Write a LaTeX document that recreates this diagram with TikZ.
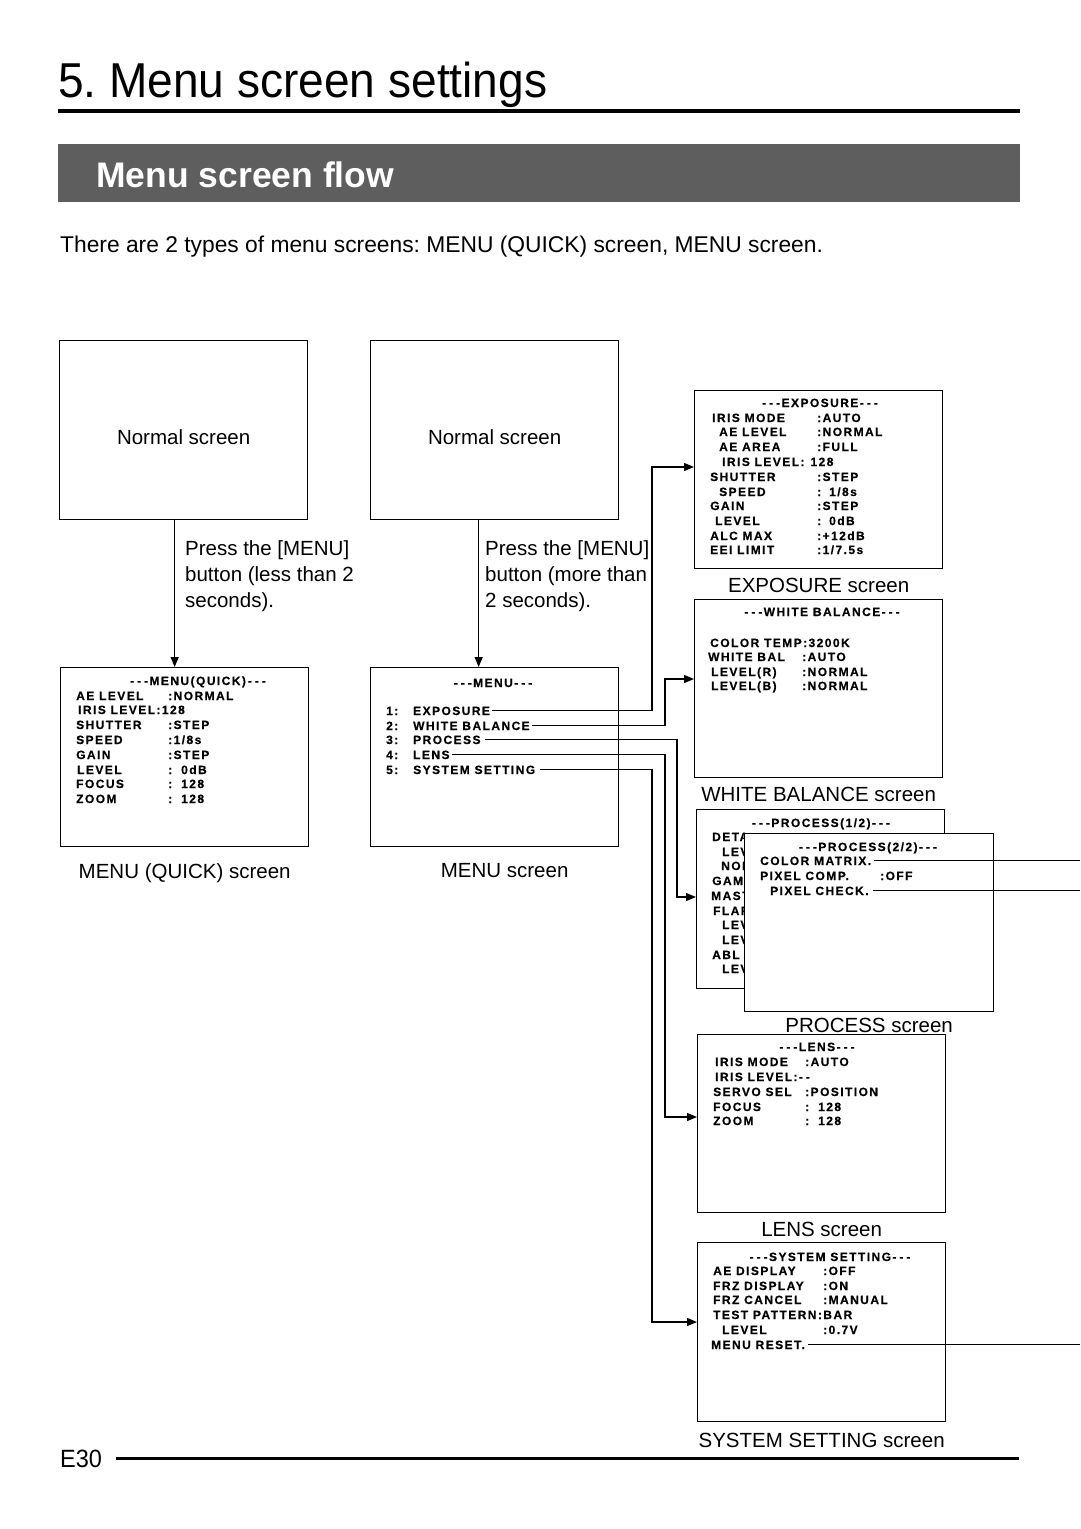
\documentclass[tikz,border=0pt]{standalone}
\usepackage{fontspec}
\setmainfont{Liberation Sans}
\newfontfamily\headfont[FakeStretch=0.94]{Liberation Sans}
\newfontfamily\osdfont[LetterSpace=12,FakeBold=0.4]{Liberation Sans}
\usetikzlibrary{arrows.meta,positioning}
\definecolor{bannergray}{RGB}{94,94,94}
\newcommand{\osddash}{-\kern3pt-\kern3pt-}
\frenchspacing

\tikzset{
  screen/.style={draw, line width=1.3pt, minimum width=248pt, minimum height=179pt, inner sep=0pt, anchor=north west},
  osd/.style={font=\osdfont\bfseries\fontsize{12}{12}\selectfont, anchor=base west, inner sep=0pt},
  osdtitle/.style={font=\osdfont\bfseries\fontsize{12}{12}\selectfont, anchor=base, inner sep=0pt},
  caption/.style={font=\fontsize{20.5}{26}\selectfont, inner sep=0pt},
  link/.style={line width=1.2pt},
  menuarrow/.style={-{Triangle[length=10pt,width=8pt]}}
}

\begin{document}
\begin{tikzpicture}[x=1pt,y=-1pt]
\useasboundingbox (0,0) rectangle (1080,1529);
\fill[white] (0,0) rectangle (1080,1529);

% heading
\node[anchor=base west, inner sep=0pt, font=\headfont\fontsize{49}{49}\selectfont] (title) at (58,97) {5. Menu screen settings};
\draw[line width=4.5pt] (58,111) -- (1020,111);
\fill[bannergray] (58,144) rectangle (1020,202);
\node[anchor=base west, inner sep=0pt, text=white, font=\bfseries\fontsize{35.5}{35.5}\selectfont] (flow) at (96,187) {Menu screen flow};
\node[anchor=base west, inner sep=0pt, font=\fontsize{22.8}{26}\selectfont] (intro) at (60,252) {There are 2 types of menu screens: MENU (QUICK) screen, MENU screen.};

% screens
\node[screen] (normA) at (59,340) {};
\node[screen] (normB) at (370,340) {};
\node[screen] (quick) at (60,667) {};
\node[screen] (menu) at (370,667) {};
\node[screen, minimum height=178pt] (expo) at (694,390) {};
\node[screen, minimum height=178pt] (wb) at (694,599) {};
\node[screen] (procA) at (696,809) {};
\node[screen, minimum height=178pt] (lens) at (697,1034) {};
\node[screen] (sys) at (697,1242) {};

\node[caption] (normAtxt) at ([yshift=-7pt]normA.center) {Normal screen};
\node[caption] (normBtxt) at ([yshift=-7pt]normB.center) {Normal screen};

% press the menu button
\draw[link,menuarrow] ([xshift=-9pt]normA.south) -- ([xshift=-9pt]normA.south |- quick.north);
\draw[link,menuarrow] ([xshift=-16pt]normB.south) -- ([xshift=-16pt]normB.south |- menu.north);
\node[caption, anchor=north west, align=left] (pressA) at (185,540) {Press the [MENU]\\button (less than 2\\seconds).};
\node[caption, anchor=north west, align=left] (pressB) at (485,540) {Press the [MENU]\\button (more than\\2 seconds).};

% MENU (QUICK)
\node[osdtitle] (qt) at (198,685) {\osddash MENU(QUICK)\,\osddash};
\node[osd] (q1) at (76,700) {\makebox[92pt][l]{AE LEVEL}:NORMAL};
\node[osd] (q2) at (78,714) {IRIS LEVEL:128};
\node[osd] (q3) at (76,729) {\makebox[92pt][l]{SHUTTER}:STEP};
\node[osd] (q4) at (76,744) {\makebox[92pt][l]{SPEED}:1/8s};
\node[osd] (q5) at (76,759) {\makebox[92pt][l]{GAIN}:STEP};
\node[osd] (q6) at (77,774) {\makebox[91pt][l]{LEVEL}:\hspace{9pt}0dB};
\node[osd] (q7) at (76,788) {\makebox[92pt][l]{FOCUS}:\hspace{9pt}128};
\node[osd] (q8) at (76,803) {\makebox[92pt][l]{ZOOM}:\hspace{9pt}128};

% MENU
\node[osdtitle] (mt) at (493,687) {\osddash MENU\osddash};
\node[osd] (m1) at (386,715) {\makebox[27pt][l]{1:}EXPOSURE};
\node[osd] (m2) at (386,730) {\makebox[27pt][l]{2:}WHITE BALANCE};
\node[osd] (m3) at (386,744) {\makebox[27pt][l]{3:}PROCESS};
\node[osd] (m4) at (386,759) {\makebox[27pt][l]{4:}LENS};
\node[osd] (m5) at (386,774) {\makebox[27pt][l]{5:}SYSTEM SETTING};

% EXPOSURE
\node[osdtitle] (et) at (820,407) {\osddash EXPOSURE\osddash};
\node[osd] (e1) at (712,422) {\makebox[105pt][l]{IRIS MODE}:AUTO};
\node[osd] (e2) at (719,436) {\makebox[98pt][l]{AE LEVEL}:NORMAL};
\node[osd] (e3) at (719,451) {\makebox[98pt][l]{AE AREA}:FULL};
\node[osd] (e4) at (722,466) {IRIS LEVEL:\hspace{6pt}128};
\node[osd] (e5) at (710,481) {\makebox[107pt][l]{SHUTTER}:STEP};
\node[osd] (e6) at (719,496) {\makebox[98pt][l]{SPEED}:\hspace{8pt}1/8s};
\node[osd] (e7) at (710,510) {\makebox[107pt][l]{GAIN}:STEP};
\node[osd] (e8) at (715,525) {\makebox[102pt][l]{LEVEL}:\hspace{8pt}0dB};
\node[osd] (e9) at (710,540) {\makebox[107pt][l]{ALC MAX}:+12dB};
\node[osd] (e10) at (710,554) {\makebox[107pt][l]{EEI LIMIT}:1/7.5s};

% WHITE BALANCE
\node[osdtitle] (wt) at (822,616) {\osddash WHITE BALANCE\osddash};
\node[osd] (w1) at (710,647) {COLOR TEMP:3200K};
\node[osd] (w2) at (708,661) {\makebox[94pt][l]{WHITE BAL}:AUTO};
\node[osd] (w3) at (711,676) {\makebox[91pt][l]{LEVEL(R)}:NORMAL};
\node[osd] (w4) at (711,690) {\makebox[91pt][l]{LEVEL(B)}:NORMAL};

% PROCESS (1/2), mostly hidden
\node[osdtitle] (pa) at (821,827) {\osddash PROCESS(1/2)\osddash};
\node[osd] (p1) at (712,841) {DETA};
\node[osd] (p2) at (722,856) {LEV};
\node[osd] (p3) at (721,870) {NOI};
\node[osd] (p4) at (712,885) {GAMM};
\node[osd] (p5) at (711,900) {MAST};
\node[osd] (p6) at (713,915) {FLAR};
\node[osd] (p7) at (722,929) {LEV};
\node[osd] (p8) at (722,944) {LEV};
\node[osd] (p9) at (712,959) {ABL};
\node[osd] (p10) at (722,973) {LEV};

% PROCESS (2/2)
\node[screen, fill=white, minimum width=249pt, minimum height=178pt] (procB) at (744,833) {};
\node[osdtitle] (pb) at (868,851) {\osddash PROCESS(2/2)\osddash};
\node[osd] (pc1) at (760,865) {COLOR MATRIX.};
\node[osd] (pc2) at (760,880) {\makebox[120pt][l]{PIXEL COMP.}:OFF};
\node[osd] (pc3) at (770,895) {PIXEL CHECK.};

% LENS
\node[osdtitle] (lt) at (817,1051) {\osddash LENS\osddash};
\node[osd] (l1) at (715,1066) {\makebox[90pt][l]{IRIS MODE}:AUTO};
\node[osd] (l2) at (715,1081) {IRIS LEVEL:-\kern3pt-};
\node[osd] (l3) at (713,1096) {\makebox[92pt][l]{SERVO SEL}:POSITION};
\node[osd] (l4) at (713,1111) {\makebox[92pt][l]{FOCUS}:\hspace{9pt}128};
\node[osd] (l5) at (713,1125) {\makebox[92pt][l]{ZOOM}:\hspace{9pt}128};

% SYSTEM SETTING
\node[osdtitle] (st) at (830,1261) {\osddash SYSTEM SETTING\osddash};
\node[osd] (s1) at (713,1275) {\makebox[110pt][l]{AE DISPLAY}:OFF};
\node[osd] (s2) at (713,1290) {\makebox[110pt][l]{FRZ DISPLAY}:ON};
\node[osd] (s3) at (713,1304) {\makebox[110pt][l]{FRZ CANCEL}:MANUAL};
\node[osd] (s4) at (713,1319) {TEST PATTERN:BAR};
\node[osd] (s5) at (722,1334) {\makebox[101pt][l]{LEVEL}:0.7V};
\node[osd] (s6) at (711,1349) {MENU RESET.};

% captions
\node[caption, below=16pt of quick] (quickcap) {MENU (QUICK) screen};
\node[caption, below=16pt of menu, xshift=10pt] (menucap) {MENU screen};
\node[caption, below=9pt of expo] (expocap) {EXPOSURE screen};
\node[caption, below=9pt of wb] (wbcap) {WHITE BALANCE screen};
\node[caption, below=6pt of procB] (proccap) {PROCESS screen};
\node[caption, below=9pt of lens] (lenscap) {LENS screen};
\node[caption, below=11pt of sys] (syscap) {SYSTEM SETTING screen};

% menu items to their screens
\coordinate (bendE) at (652,467);
\coordinate (bendW) at (665,679);
\coordinate (bendP) at (677,897);
\coordinate (bendL) at (665,1117);
\coordinate (bendS) at (652,1322);
\coordinate (rim) at (1080,0);
\draw[link,menuarrow] ([xshift=2pt]m1.east) -| (bendE) -- (bendE -| expo.west);
\draw[link,menuarrow] ([xshift=2pt]m2.east) -| (bendW) -- (bendW -| wb.west);
\draw[link,menuarrow] ([xshift=4pt]m3.east) -| (bendP) -- (bendP -| procA.west);
\draw[link,menuarrow] ([xshift=2pt]m4.east) -| (bendL) -- (bendL -| lens.west);
\draw[link,menuarrow] ([xshift=5pt]m5.east) -| (bendS) -- (bendS -| sys.west);

% leads off the page
\draw[link] ([xshift=3pt]pc1.east) -- (pc1.east -| rim);
\draw[link] ([xshift=4pt]pc3.east) -- (pc3.east -| rim);
\draw[link] ([xshift=3pt]s6.east) -- (s6.east -| rim);

% footer
\node[anchor=base west, inner sep=0pt, font=\headfont\fontsize{25}{25}\selectfont] (page) at (60,1467) {E30};
\draw[line width=2.8pt] ([xshift=14pt]page.east) -- ++(903,0);
\end{tikzpicture}
\end{document}
